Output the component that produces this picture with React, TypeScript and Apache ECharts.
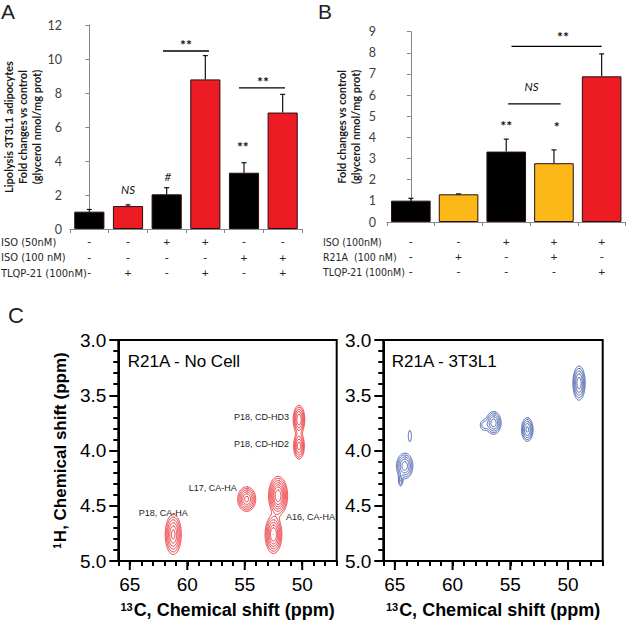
import React, { useEffect, useRef } from 'react';
import * as echarts from 'echarts';

// ---------- Panel A data ----------
const signRowsA = [
  ['-', '-', '+', '+', '-', '-'],
  ['-', '-', '-', '-', '+', '+'],
  ['-', '+', '-', '+', '-', '+'],
];
const rowLabelsA = ['ISO (50nM)', 'ISO (100 nM)', 'TLQP-21 (100nM)'];
const valuesA = [1.02, 1.35, 2.04, 8.8, 3.31, 6.85];
const errTopA = [1.15, 1.42, 2.43, 10.2, 3.9, 7.92];
const barColorsA = ['#000000', '#ed1c24', '#000000', '#ed1c24', '#000000', '#ed1c24'];
const sigLinesA = [[1.905, 3.094, 10.47], [3.87, 5.06, 8.3]];
const sigTextA = ['**', '**', '**', 'NS', '#'];
const sigPosA = [[2.5, 11.1], [4.49, 8.9], [3.97, 5.1], [1.0, 2.3], [2.03, 3.06]];

// ---------- Panel B data ----------
const signRowsB = [
  ['-', '-', '+', '+', '+'],
  ['-', '+', '-', '+', '-'],
  ['-', '-', '-', '-', '+'],
];
const rowLabelsB = ['ISO (100nM)', 'R21A  (100 nM)', 'TLQP-21 (100nM)'];
const valuesB = [1.01, 1.31, 3.33, 2.78, 6.89];
const errTopB = [1.12, 1.33, 3.92, 3.41, 7.95];
const barColorsB = ['#000000', '#fbb817', '#000000', '#fbb817', '#ed1c24'];
const sigLinesB = [[2.11, 4.0, 8.31], [2.04, 3.14, 5.59]];
const sigTextB = ['**', 'NS', '**', '*'];
const sigPosB = [[3.19, 8.96], [2.53, 6.4], [2.0, 4.75], [3.06, 4.69]];

// ---------- Panel C data (peak model: x ppm, y ppm, sigma x, sigma y, amplitude) ----------
const peaksNoCell = [
  [50.28, 3.72, 0.25, 0.064, 0.9],
  [50.28, 3.96, 0.24, 0.06, 0.8],
  [54.83, 4.44, 0.38, 0.054, 1.0],
  [52.1, 4.41, 0.37, 0.078, 1.5],
  [52.5, 4.76, 0.34, 0.08, 1.2],
  [61.22, 4.76, 0.34, 0.088, 1.0],
];
const peaks3T3L1 = [
  [64.15, 4.14, 0.36, 0.058, 0.85],
  [64.5, 4.27, 0.12, 0.036, 0.32],
  [63.7, 3.87, 0.2, 0.075, 0.15],
  [56.45, 3.75, 0.33, 0.052, 0.85],
  [57.3, 3.77, 0.25, 0.036, 0.24],
  [53.53, 3.81, 0.26, 0.056, 0.75],
  [49.05, 3.39, 0.27, 0.078, 0.85],
];
const contourLevels = [0.12, 0.2, 0.32, 0.48, 0.68, 0.9, 1.2];
const peakLabelText = ['P18, CD-HD3', 'P18, CD-HD2', 'L17, CA-HA', 'A16, CA-HA', 'P18, CA-HA'];
const peakLabelPos = [[51.15, 3.7], [51.15, 3.94], [55.7, 4.34], [51.41, 4.6], [62.09, 4.57]];
const peakLabelAlign = ['right', 'right', 'right', 'left', 'center'];
const majorTicksC = [65, 60, 55, 50];

const FONT_UI = 'Lato, "Open Sans", sans-serif';
const FONT_NARROW = '"Liberation Sans Narrow", "Arial Narrow", "DejaVu Sans Condensed", Roboto, sans-serif';
const FONT_C = '"Liberation Sans", Arial, sans-serif';

// ---------- contour computation (marching squares) ----------
const MS_TABLE: number[][][] = [
  [], [[3, 0]], [[0, 1]], [[3, 1]], [[1, 2]], [[3, 0], [1, 2]], [[0, 2]], [[3, 2]],
  [[2, 3]], [[0, 2]], [[0, 1], [2, 3]], [[1, 2]], [[1, 3]], [[0, 1]], [[3, 0]], [],
];

function buildContours(peaks: number[][], levels: number[], x0: number, x1: number, y0: number, y1: number, nx: number, ny: number) {
  const dx = (x1 - x0) / nx, dy = (y1 - y0) / ny, W = nx + 1;
  const f = new Float64Array(W * (ny + 1));
  for (let j = 0; j <= ny; j++) {
    for (let i = 0; i <= nx; i++) {
      const x = x0 + i * dx, y = y0 + j * dy;
      let s = 0;
      for (const p of peaks) {
        const u = (x - p[0]) / p[2], v = (y - p[1]) / p[3];
        const q = 0.5 * (u * u + v * v);
        if (q < 15) s += p[4] * Math.exp(-q);
      }
      f[j * W + i] = s;
    }
  }
  return levels.map((L) => {
    const pts = new Map<number, number[]>();
    const adj = new Map<number, number[]>();
    const edgePoint = (id: number) => {
      if (pts.has(id)) return;
      const base = id >> 1;
      const i = base % W, j = (base - i) / W;
      if ((id & 1) === 0) {
        const a = f[base], b = f[base + 1];
        const t = (L - a) / (b - a);
        pts.set(id, [x0 + (i + t) * dx, y0 + j * dy]);
      } else {
        const a = f[base], b = f[base + W];
        const t = (L - a) / (b - a);
        pts.set(id, [x0 + i * dx, y0 + (j + t) * dy]);
      }
    };
    const link = (a: number, b: number) => {
      edgePoint(a); edgePoint(b);
      if (!adj.has(a)) adj.set(a, []);
      if (!adj.has(b)) adj.set(b, []);
      adj.get(a)!.push(b); adj.get(b)!.push(a);
    };
    for (let j = 0; j < ny; j++) {
      for (let i = 0; i < nx; i++) {
        const k = j * W + i;
        const a = f[k], b = f[k + 1], c = f[k + W + 1], d = f[k + W];
        const idx = (a > L ? 1 : 0) | (b > L ? 2 : 0) | (c > L ? 4 : 0) | (d > L ? 8 : 0);
        if (idx === 0 || idx === 15) continue;
        const e = [2 * k, 2 * (k + 1) + 1, 2 * (k + W), 2 * k + 1];
        for (const [p, q] of MS_TABLE[idx]) link(e[p], e[q]);
      }
    }
    const visited = new Set<number>();
    const lines: number[][][] = [];
    const walk = (start: number) => {
      const line: number[][] = [];
      let prev = -1;
      let cur: number | undefined = start;
      while (cur !== undefined && !visited.has(cur)) {
        visited.add(cur);
        line.push(pts.get(cur)!);
        const nb = adj.get(cur)!;
        let next: number | undefined = undefined;
        for (const n of nb) if (n !== prev && !visited.has(n)) { next = n; break; }
        prev = cur;
        cur = next;
      }
      return line;
    };
    adj.forEach((nb, id) => { if (nb.length === 1 && !visited.has(id)) lines.push(walk(id)); });
    adj.forEach((_nb, id) => {
      if (!visited.has(id)) { const l = walk(id); l.push(l[0]); lines.push(l); }
    });
    return lines;
  });
}

const contoursNoCell = buildContours(peaksNoCell, contourLevels, 47, 66, 3, 5, 380, 400);
const contours3T3L1 = buildContours(peaks3T3L1, contourLevels, 47, 66, 3, 5, 380, 400);

// ---------- render helpers ----------
const errRender = (params: any, api: any) => {
  const i = params.dataIndex;
  const p = api.coord([i, api.value(1)]);
  const q = api.coord([i, api.value(2)]);
  return {
    type: 'group',
    children: [
      { type: 'line', shape: { x1: p[0], y1: p[1], x2: q[0], y2: q[1] }, style: { stroke: '#111', lineWidth: 1.2 } },
      { type: 'line', shape: { x1: q[0] - 2.5, y1: q[1], x2: q[0] + 2.5, y2: q[1] }, style: { stroke: '#111', lineWidth: 1.2 } },
    ],
  };
};

const sigLineRender = (params: any, api: any) => {
  const p = api.coord([api.value(0), api.value(2)]);
  const q = api.coord([api.value(1), api.value(2)]);
  return { type: 'line', shape: { x1: p[0], y1: p[1], x2: q[0], y2: q[1] }, style: { stroke: '#000', lineWidth: 1.3 } };
};

const makeSigTextRender = (texts: string[]) => (params: any, api: any) => {
  const t = texts[params.dataIndex];
  const p = api.coord([api.value(0), api.value(1)]);
  const isStar = t.indexOf('*') >= 0;
  return {
    type: 'text',
    x: p[0],
    y: p[1] + (isStar ? 4 : 0),
    style: {
      text: t,
      fill: '#111',
      fontSize: isStar ? 14 : 11.5,
      fontFamily: FONT_UI,
      fontWeight: isStar ? 'bold' : 'normal',
      fontStyle: isStar ? 'normal' : 'italic',
      align: 'center', verticalAlign: 'middle',
      textAlign: 'center', textVerticalAlign: 'middle',
    },
  };
};

const makeContourRender = (contours: number[][][][], color: string) => (params: any, api: any) => {
  const lines = contours[params.dataIndex];
  let d = '';
  for (const line of lines) {
    for (let k = 0; k < line.length; k++) {
      const p = api.coord(line[k]);
      d += (k === 0 ? 'M' : 'L') + p[0].toFixed(2) + ' ' + p[1].toFixed(2);
    }
  }
  if (!d) return null;
  return {
    type: 'path',
    shape: { pathData: d },
    style: { fill: 'none', stroke: color, lineWidth: 0.9, lineJoin: 'round', lineCap: 'round' },
  };
};

const peakLabelRender = (params: any, api: any) => {
  const i = params.dataIndex;
  const p = api.coord([api.value(0), api.value(1)]);
  return {
    type: 'text',
    x: p[0],
    y: p[1],
    style: {
      text: peakLabelText[i], fill: '#222', fontSize: 9, fontFamily: FONT_C,
      align: peakLabelAlign[i], verticalAlign: 'middle',
      textAlign: peakLabelAlign[i], textVerticalAlign: 'middle',
    },
  };
};

const majorTickRender = (params: any, api: any) => {
  const p = api.coord([api.value(0), api.value(1)]);
  return { type: 'line', shape: { x1: p[0], y1: p[1], x2: p[0], y2: p[1] + 9 }, style: { stroke: '#000', lineWidth: 2 } };
};

// ---------- axis builders ----------
const catsFromRows = (rows: string[][]) => rows[0].map((_, i) => rows.map((r) => r[i]).join('\n'));

const barXAxis = (grid: number, rows: string[][], margin: number, lh: number) => ({
  type: 'category',
  gridIndex: grid,
  data: catsFromRows(rows),
  axisLine: { show: true, lineStyle: { color: '#868686', width: 1 } },
  axisTick: { show: true, length: 4, lineStyle: { color: '#868686' } },
  axisLabel: { interval: 0, margin, lineHeight: lh, fontSize: 12, fontFamily: FONT_UI, color: '#262626' },
  splitLine: { show: false },
});

const barYAxis = (grid: number, max: number, interval: number, name: string, nameGap: number, margin: number) => ({
  type: 'value',
  gridIndex: grid,
  min: 0,
  max,
  interval,
  axisLine: { show: true, lineStyle: { color: '#868686', width: 1 } },
  axisTick: { show: true, length: 4, lineStyle: { color: '#868686' } },
  axisLabel: { fontSize: 12.5, fontFamily: FONT_UI, color: '#404040', margin },
  splitLine: { show: false },
  name,
  nameLocation: 'middle',
  nameRotate: 90,
  nameGap,
  nameTextStyle: { fontFamily: FONT_UI, fontWeight: 'bold', fontSize: 11, lineHeight: 14, color: '#1a1a1a' },
});

const cXAxis = (grid: number) => ({
  type: 'value',
  gridIndex: grid,
  min: 47,
  max: 66,
  interval: 1,
  inverse: true,
  axisLine: { show: true, lineStyle: { color: '#000', width: 2 } },
  axisTick: { show: true, length: 5, lineStyle: { color: '#000', width: 2 } },
  axisLabel: {
    formatter: (v: number) => (Math.round(v) % 5 === 0 ? String(Math.round(v)) : ''),
    fontSize: 19, fontFamily: FONT_C, color: '#000', margin: 14,
  },
  splitLine: { show: false },
  name: '{s|13}C, Chemical shift (ppm)',
  nameLocation: 'middle',
  nameGap: 40,
  nameTextStyle: {
    fontFamily: FONT_C, fontWeight: 'bold', fontSize: 18, color: '#000',
    rich: { s: { fontFamily: FONT_C, fontWeight: 'bold', fontSize: 11, color: '#000', verticalAlign: 'top', padding: [0, 1, 0, 0] } },
  },
});

const cYAxis = (grid: number, withName: boolean) => ({
  type: 'value',
  gridIndex: grid,
  min: 3,
  max: 5,
  interval: 0.5,
  inverse: true,
  axisLine: { show: true, lineStyle: { color: '#000', width: 2 } },
  axisTick: { show: true, length: 9, lineStyle: { color: '#000', width: 2 } },
  minorTick: { show: true, splitNumber: 5, length: 5, lineStyle: { color: '#000', width: 2 } },
  axisLabel: { formatter: (v: number) => v.toFixed(1), fontSize: 19, fontFamily: FONT_C, color: '#000', margin: 12 },
  splitLine: { show: false },
  minorSplitLine: { show: false },
  ...(withName
    ? {
        name: '{s|1}H, Chemical shift (ppm)',
        nameLocation: 'middle',
        nameRotate: 90,
        nameGap: 49,
        nameTextStyle: {
          fontFamily: FONT_C, fontWeight: 'bold', fontSize: 17, color: '#000',
          rich: { s: { fontFamily: FONT_C, fontWeight: 'bold', fontSize: 10, color: '#000', verticalAlign: 'top', padding: [0, 1, 0, 0] } },
        },
      }
    : {}),
});

const textEl = (x: number, y: number, text: string, fontSize: number, fontFamily: string, fill = '#222') => ({
  type: 'text',
  x,
  y,
  style: {
    text, fontSize, fontFamily, fill,
    align: 'left', verticalAlign: 'middle', textAlign: 'left', textVerticalAlign: 'middle',
  },
});

const levelData = contourLevels.map(() => [56, 4]);

const option: any = {
  animation: false,
  backgroundColor: '#ffffff',
  grid: [
    { left: 70, top: 25, width: 232, height: 204 },
    { left: 387, top: 31.7, width: 238.5, height: 190.3 },
    { left: 118.3, top: 340, width: 218.4, height: 221.7, show: true, borderColor: '#000', borderWidth: 2 },
    { left: 383.3, top: 340, width: 219.4, height: 221.7, show: true, borderColor: '#000', borderWidth: 2 },
  ],
  xAxis: [
    barXAxis(0, signRowsA, 5, 15.5),
    { type: 'value', gridIndex: 0, min: -0.5, max: 5.5, show: false },
    barXAxis(1, signRowsB, 12, 15),
    { type: 'value', gridIndex: 1, min: -0.5, max: 4.5, show: false },
    cXAxis(2),
    cXAxis(3),
  ],
  yAxis: [
    barYAxis(0, 12, 2, 'Lipolysis 3T3L1 adipocytes\nFold changes vs control\n(glycerol nmol/mg prot)', 23, 8),
    barYAxis(1, 9, 1, 'Fold changes vs control\n(glycerol nmol/mg prot)', 25, 11),
    cYAxis(2, true),
    cYAxis(3, false),
  ],
  series: [
    {
      type: 'bar', xAxisIndex: 0, yAxisIndex: 0, barCategoryGap: '22%',
      data: valuesA.map((v, i) => ({ value: v, itemStyle: { color: barColorsA[i] } })),
      itemStyle: { borderColor: '#2a0e0e', borderWidth: 1 },
    },
    { type: 'custom', xAxisIndex: 0, yAxisIndex: 0, data: valuesA.map((v, i) => [i, v, errTopA[i]]), renderItem: errRender, z: 3 },
    { type: 'custom', xAxisIndex: 1, yAxisIndex: 0, data: sigLinesA, renderItem: sigLineRender, z: 3 },
    { type: 'custom', xAxisIndex: 1, yAxisIndex: 0, data: sigPosA, renderItem: makeSigTextRender(sigTextA), z: 3, clip: false },
    {
      type: 'bar', xAxisIndex: 2, yAxisIndex: 1, barCategoryGap: '17%',
      data: valuesB.map((v, i) => ({ value: v, itemStyle: { color: barColorsB[i] } })),
      itemStyle: { borderColor: '#2a0e0e', borderWidth: 1 },
    },
    { type: 'custom', xAxisIndex: 2, yAxisIndex: 1, data: valuesB.map((v, i) => [i, v, errTopB[i]]), renderItem: errRender, z: 3 },
    { type: 'custom', xAxisIndex: 3, yAxisIndex: 1, data: sigLinesB, renderItem: sigLineRender, z: 3 },
    { type: 'custom', xAxisIndex: 3, yAxisIndex: 1, data: sigPosB, renderItem: makeSigTextRender(sigTextB), z: 3, clip: false },
    { type: 'custom', xAxisIndex: 4, yAxisIndex: 2, data: levelData, renderItem: makeContourRender(contoursNoCell, '#e8242b'), clip: true, silent: true },
    { type: 'custom', xAxisIndex: 4, yAxisIndex: 2, data: peakLabelPos, renderItem: peakLabelRender, clip: false, silent: true },
    { type: 'custom', xAxisIndex: 4, yAxisIndex: 2, data: majorTicksC.map((v) => [v, 5]), renderItem: majorTickRender, clip: false, silent: true },
    { type: 'custom', xAxisIndex: 5, yAxisIndex: 3, data: levelData, renderItem: makeContourRender(contours3T3L1, '#3a54a4'), clip: true, silent: true },
    { type: 'custom', xAxisIndex: 5, yAxisIndex: 3, data: majorTicksC.map((v) => [v, 5]), renderItem: majorTickRender, clip: false, silent: true },
  ],
  graphic: [
    textEl(1, 11, 'A', 21, FONT_C),
    textEl(318, 11, 'B', 21, FONT_C),
    textEl(8, 315, 'C', 22, FONT_C),
    ...rowLabelsA.map((t, i) => textEl(1, 242 + i * 15.5, t, 11, FONT_NARROW, '#262626')),
    ...rowLabelsB.map((t, i) => textEl(323, 241.7 + i * 15, t, 10.5, FONT_NARROW, '#262626')),
    textEl(127.7, 361.7, 'R21A - No Cell', 17, FONT_C, '#000'),
    textEl(391.7, 361.7, 'R21A - 3T3L1', 17, FONT_C, '#000'),
  ],
};

export default function App() {
  const ref = useRef<HTMLDivElement>(null);
  useEffect(() => {
    if (!ref.current) return;
    const chart = echarts.init(ref.current, null, { renderer: 'svg' });
    chart.setOption(option);
    return () => chart.dispose();
  }, []);
  return (
    <div
      ref={ref}
      style={{ position: 'fixed', left: 0, top: 0, width: 627, height: 620, background: '#fff' }}
    />
  );
}
